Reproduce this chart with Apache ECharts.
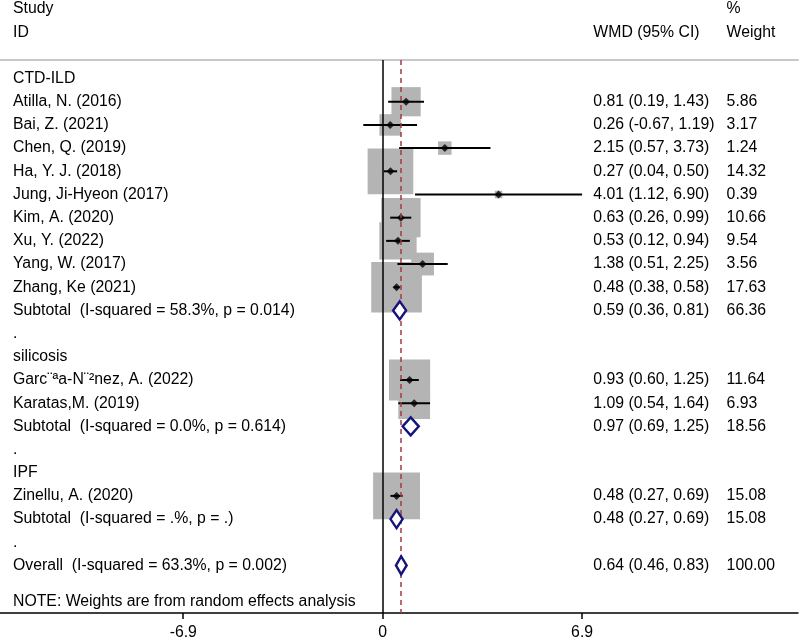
<!DOCTYPE html>
<html><head><meta charset="utf-8">
<script src="https://cdn.jsdelivr.net/npm/echarts@6/dist/echarts.min.js"></script>
<style>html,body{margin:0;padding:0;background:#fff}#c{width:800px;height:643px}</style>
</head><body><div id="c"></div>
<script>
// ---------- data ----------
const rowLabels = [
  "CTD-ILD",
  "Atilla, N. (2016)",
  "Bai, Z. (2021)",
  "Chen, Q. (2019)",
  "Ha, Y. J. (2018)",
  "Jung, Ji-Hyeon (2017)",
  "Kim, A. (2020)",
  "Xu, Y. (2022)",
  "Yang, W. (2017)",
  "Zhang, Ke (2021)",
  "Subtotal  (I-squared = 58.3%, p = 0.014)",
  ".",
  "silicosis",
  "Garc\u00a8\u00aaa-N\u00a8\u00b2nez, A. (2022)",
  "Karatas,M. (2019)",
  "Subtotal  (I-squared = 0.0%, p = 0.614)",
  ".",
  "IPF",
  "Zinellu, A. (2020)",
  "Subtotal  (I-squared = .%, p = .)",
  ".",
  "Overall  (I-squared = 63.3%, p = 0.002)"
];
const wmd     = [null,0.81,0.26,2.15,0.27,4.01,0.63,0.53,1.38,0.48,0.59,null,null,0.93,1.09,0.97,null,null,0.48,0.48,null,0.64];
const ciLow   = [null,0.19,-0.67,0.57,0.04,1.12,0.26,0.12,0.51,0.38,0.36,null,null,0.60,0.54,0.69,null,null,0.27,0.27,null,0.46];
const ciHigh  = [null,1.43,1.19,3.73,0.50,6.90,0.99,0.94,2.25,0.58,0.81,null,null,1.25,1.64,1.25,null,null,0.69,0.69,null,0.83];
const weights = [null,5.86,3.17,1.24,14.32,0.39,10.66,9.54,3.56,17.63,66.36,null,null,11.64,6.93,18.56,null,null,15.08,15.08,null,100.00];
const tickValues = [-6.9, 0, 6.9];
const headerStudy = ["Study", "ID"];
const headerCI = "WMD (95% CI)";
const headerWeight = ["%", "Weight"];
const noteText = "NOTE: Weights are from random effects analysis";

// ---------- layout constants ----------
const X_MIN = -13.24, X_MAX = 14.37;
const Y_MIN = -0.8, Y_MAX = 23.05;
const COL_CI = 7.29, COL_W = 11.9;
const NOTE_ROW = 22.55;
const FONT = '15.8px "Liberation Sans", Arial, Helvetica, sans-serif';
const BOX_K = 12.07;

const isPooled = l => /^(Subtotal|Overall)/.test(l);
const studyData = [], pooledData = [], textRows = [];
rowLabels.forEach((l, i) => {
  const r = {row: i, left: l};
  if (wmd[i] !== null) {
    r.ci = wmd[i].toFixed(2) + " (" + ciLow[i].toFixed(2) + ", " + ciHigh[i].toFixed(2) + ")";
    r.w = weights[i].toFixed(2);
    if (isPooled(l)) pooledData.push([wmd[i], i, ciLow[i], ciHigh[i]]);
    else studyData.push([wmd[i], i, ciLow[i], ciHigh[i], weights[i]]);
  }
  textRows.push(r);
});
textRows.push({row: -3, left: headerStudy[0], w: headerWeight[0]});
textRows.push({row: -2, left: headerStudy[1], ci: headerCI, w: headerWeight[1]});
textRows.push({row: NOTE_ROW, left: noteText});
const overall = wmd[rowLabels.length - 1];

const chart = echarts.init(document.getElementById('c'), null, {renderer: 'canvas'});
chart.setOption({
  animation: false,
  grid: {left: 0, right: 2, top: 60, bottom: 30},
  xAxis: [{
    type: 'value', min: X_MIN, max: X_MAX, position: 'bottom',
    axisLine: {show: true, onZero: false, lineStyle: {color: '#000', width: 1.5}},
    axisTick: {show: true, customValues: tickValues, length: 6, lineStyle: {color: '#000', width: 1.5}},
    axisLabel: {show: true, customValues: tickValues, margin: 12, color: '#000',
      fontSize: 15.8, fontFamily: '"Liberation Sans", Arial, sans-serif',
      formatter: v => String(v)},
    splitLine: {show: false}
  }, {
    type: 'value', min: X_MIN, max: X_MAX, position: 'top',
    axisLine: {show: true, onZero: false, lineStyle: {color: '#c8c8c8', width: 2}},
    axisTick: {show: false}, axisLabel: {show: false}, splitLine: {show: false}
  }],
  yAxis: {type: 'value', inverse: true, min: Y_MIN, max: Y_MAX, show: false},
  series: [
    { // reference lines
      type: 'line', data: [], silent: true,
      markLine: {
        symbol: 'none', silent: true, label: {show: false}, animation: false,
        data: [
          {xAxis: 0, lineStyle: {color: '#000', width: 1.5, type: 'solid'}},
          {xAxis: overall, lineStyle: {color: '#a33a40', width: 1.5, type: [5, 4]}}
        ]
      }
    },
    { // weight boxes
      type: 'custom', data: studyData, z: 2,
      renderItem: (p, api) => {
        const c = api.coord([api.value(0), api.value(1)]);
        const s = BOX_K * Math.sqrt(api.value(4));
        return {type: 'rect', shape: {x: c[0] - s / 2, y: c[1] - s / 2, width: s, height: s},
          style: {fill: '#b4b4b4'}};
      }
    },
    { // confidence intervals
      type: 'custom', data: studyData, z: 3,
      renderItem: (p, api) => {
        const a = api.coord([api.value(2), api.value(1)]);
        const b = api.coord([api.value(3), api.value(1)]);
        return {type: 'line', shape: {x1: a[0], y1: a[1], x2: b[0], y2: b[1]},
          style: {stroke: '#000', lineWidth: 2}};
      }
    },
    { // point estimates
      type: 'scatter', data: studyData.map(d => [d[0], d[1]]), z: 4,
      symbol: 'diamond', symbolSize: 8, itemStyle: {color: '#000'}
    },
    { // pooled diamonds
      type: 'custom', data: pooledData, z: 5,
      renderItem: (p, api) => {
        const r = api.value(1);
        const l = api.coord([api.value(2), r]);
        const m = api.coord([api.value(0), r]);
        const h = api.coord([api.value(3), r]);
        const hh = 9;
        return {type: 'polygon',
          shape: {points: [[l[0], l[1]], [m[0], m[1] - hh], [h[0], h[1]], [m[0], m[1] + hh]]},
          style: {fill: '#fff', stroke: '#14147a', lineWidth: 2.4, lineJoin: 'miter'}};
      }
    },
    { // text columns
      type: 'custom', data: textRows.map(r => [r.row]), z: 6, clip: false,
      renderItem: (p, api) => {
        const r = textRows[p.dataIndex];
        const y = api.coord([0, r.row])[1];
        const kids = [];
        const xl = api.coord([X_MIN, 0])[0] + 13;
        if (r.left) kids.push({type: 'text', style: {x: xl, y: y, text: r.left, font: FONT, fill: '#000', align: 'left', verticalAlign: 'middle'}});
        if (r.ci) kids.push({type: 'text', style: {x: api.coord([COL_CI, 0])[0], y: y, text: r.ci, font: FONT, fill: '#000', align: 'left', verticalAlign: 'middle'}});
        if (r.w) kids.push({type: 'text', style: {x: api.coord([COL_W, 0])[0], y: y, text: r.w, font: FONT, fill: '#000', align: 'left', verticalAlign: 'middle'}});
        return {type: 'group', children: kids};
      }
    }
  ]
});
</script>
</body></html>
